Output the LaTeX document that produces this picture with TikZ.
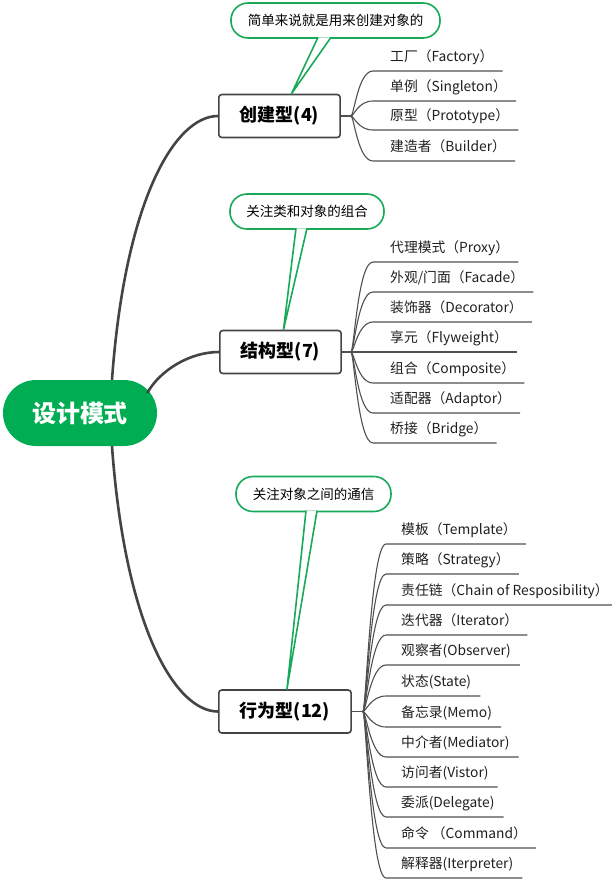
\documentclass[tikz,border=0pt]{standalone}
\usepackage{fontspec}
\setmainfont{Noto Sans CJK SC}
\usepackage{tikz}
\usetikzlibrary{positioning, calc}

\definecolor{rootgreen}{RGB}{0,173,82}
\definecolor{notegreen}{RGB}{24,170,88}
\definecolor{branchgray}{RGB}{68,68,68}
\definecolor{twiggray}{RGB}{80,80,80}

\tikzset{
  root/.style={fill=rootgreen, text=white, rounded corners=33pt, minimum width=154pt,
    minimum height=66pt, font=\bfseries\fontsize{24}{26}\selectfont},
  kind/.style={draw=branchgray, line width=1.6pt, fill=white, rounded corners=3pt, anchor=west,
    minimum height=43pt, inner xsep=21pt, font=\bfseries\fontsize{18}{20}\selectfont},
  note/.style={draw=notegreen, line width=1.6pt, fill=white, rounded corners=17pt, inner sep=0pt,
    minimum height=35pt, font=\fontsize{13.5}{16}\selectfont},
  tail/.style={draw=notegreen, line width=1.6pt, fill=white, line join=round},
  leaf/.style={anchor=south west, inner sep=0pt, text depth=9pt, text=black!88,
    font=\fontsize{13.8}{16}\selectfont},
  branch/.style={draw=branchgray, line width=2.6pt},
  twig/.style={draw=twiggray, line width=1.1pt},
}

\begin{document}
\begin{tikzpicture}[x=1pt, y=-1pt]
\useasboundingbox (0,0) rectangle (612,879);

% Root and the three kinds
\node[root] (root) at (80,413) {设计模式};
\node[kind] (cr) at (218,116) {创建型(4)};
\node[kind] (st) at (219,352) {结构型(7)};
\node[kind] (bh) at (218,711.5) {行为型(12)};

\draw[branch] ([xshift=32pt]root.north) .. controls +(13,-180) and +(-43,0) .. (cr.west);
\draw[branch] ([xshift=-10pt,yshift=20pt]root.east) .. controls +(13,-23) and +(-29,0) .. (st.west);
\draw[branch] ([xshift=32pt]root.south) .. controls +(13,180) and +(-43,0) .. (bh.west);

% Callouts
\node[note, minimum width=209pt] (n1) at (335.5,20.5) {简单来说就是用来创建对象的};
\node[note, minimum width=154pt] (n2) at (307,211.5) {关注类和对象的组合};
\node[note, minimum width=155pt] (n3) at (313.5,494) {关注对象之间的通信};

\draw[tail] ([xshift=-17.5pt,yshift=1.5pt]n1.south) -- ([xshift=12pt]cr.north) -- ([xshift=-4.5pt,yshift=1.5pt]n1.south);
\draw[tail] ([xshift=-11pt,yshift=1.5pt]n2.south) -- ([xshift=3pt]st.north) -- ([xshift=0pt,yshift=1.5pt]n2.south);
\draw[tail] ([xshift=-7.5pt,yshift=1.5pt]n3.south) -- ([xshift=2pt]bh.north) -- ([xshift=3.5pt,yshift=1.5pt]n3.south);

% Creational leaves
\coordinate (cj) at ([xshift=10pt]cr.east);
\draw[twig] (cr.east) -- (cj);
\foreach \n/\y/\t in {c1/71/{工厂（Factory）}, c2/101/{单例（Singleton）},
    c3/130/{原型（Prototype）}, c4/161/{建造者（Builder）}} {
  \node[leaf] (\n) at (390,\y) {\t};
  \draw[twig] (cj) .. controls +(3,0) and +(-15,0) .. ([xshift=-17pt]\n.south west) -- ([xshift=9pt]\n.south east);
}

% Structural leaves
\coordinate (sj) at ([xshift=9pt]st.east);
\draw[twig] (st.east) -- (sj);
\foreach \n/\y/\t in {s1/262/{代理模式（Proxy）}, s2/292/{外观/门面（Facade）},
    s3/322/{装饰器（Decorator）}, s4/352/{享元（Flyweight）}, s5/383/{组合（Composite）},
    s6/413/{适配器（Adaptor）}, s7/443/{桥接（Bridge）}} {
  \node[leaf] (\n) at (390,\y) {\t};
  \draw[twig] (sj) .. controls +(3,0) and +(-15,0) .. ([xshift=-17pt]\n.south west) -- ([xshift=9pt]\n.south east);
}

% Behavioral leaves
\coordinate (bj) at ([xshift=11pt]bh.east);
\draw[twig] (bh.east) -- (bj);
\foreach \n/\y/\t in {b1/544/{模板（Template）}, b2/574/{策略（Strategy）},
    b3/605/{责任链（Chain of Resposibility）}, b4/635/{迭代器（Iterator）},
    b5/665/{观察者(Observer)}, b6/696/{状态(State)}, b7/727/{备忘录(Memo)},
    b8/757/{中介者(Mediator)}, b9/787/{访问者(Vistor)}, b10/817/{委派(Delegate)},
    b11/848/{命令 （Command）}, b12/878/{解释器(Iterpreter)}} {
  \node[leaf] (\n) at (401,\y) {\t};
  \draw[twig] (bj) .. controls +(3,0) and +(-15,0) .. ([xshift=-15pt]\n.south west) -- ([xshift=9pt]\n.south east);
}
\end{tikzpicture}
\end{document}
